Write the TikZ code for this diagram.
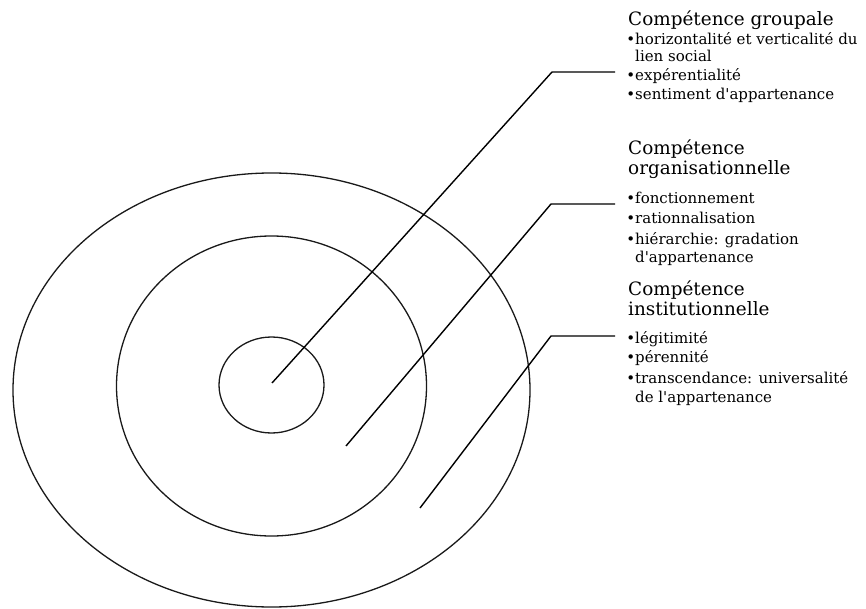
\documentclass[tikz,border=0pt]{standalone}
\usepackage{fontspec}
\setmainfont{DejaVu Serif}
\newcommand{\bul}{\makebox[7pt][l]{\hspace*{-1.8pt}•}}
\newcommand{\nobul}{\hspace*{7pt}}
\begin{document}
\begin{tikzpicture}[x=1pt,y=-1pt,
  ring/.style={draw=black!90, line width=1.3pt},
  leader/.style={draw=black, line width=1.4pt},
  head/.style={anchor=base west, inner sep=0pt, font=\fontsize{18.4}{20}\selectfont},
  item/.style={anchor=base west, inner sep=0pt, font=\fontsize{15}{17}\selectfont}]
\useasboundingbox (0,0) rectangle (866,609);
% rings
\draw[ring] (271.5,390) ellipse [x radius=258.5, y radius=217];
\draw[ring] (271.5,386) ellipse [x radius=155, y radius=150];
\draw[ring] (271.5,385) ellipse [x radius=52.5, y radius=48];
% leader points
\coordinate (s1) at (272,383);
\coordinate (b1) at (552,72);
\coordinate (e1) at (615,72);
\coordinate (s2) at (346,446);
\coordinate (b2) at (551,204);
\coordinate (e2) at (615,204);
\coordinate (s3) at (420,508);
\coordinate (b3) at (551,336);
\coordinate (e3) at (615,336);
\draw[leader] (s1) -- (b1) -- (e1);
\draw[leader] (s2) -- (b2) -- (e2);
\draw[leader] (s3) -- (b3) -- (e3);
% group 1
\node[head] (h1) at (628,26) {Compétence groupale};
\node[item] (g1a) at (628,45) {\bul horizontalité et verticalité du};
\node[item] (g1b) at (628,62) {\nobul lien social};
\node[item] (g1c) at (628,81) {\bul expérentialité};
\node[item] (g1d) at (628,100) {\bul sentiment d\textquotesingle appartenance};
% group 2
\node[head] (h2a) at (628,155) {Compétence};
\node[head] (h2b) at (628,175) {organisationnelle};
\node[item] (g2a) at (628,204) {\bul fonctionnement};
\node[item] (g2b) at (628,224) {\bul rationnalisation};
\node[item] (g2c) at (628,245) {\bul hiérarchie: gradation};
\node[item] (g2d) at (628,263) {\nobul d\textquotesingle appartenance};
% group 3
\node[head] (h3a) at (628,295) {Compétence};
\node[head] (h3b) at (628,315) {institutionnelle};
\node[item] (g3a) at (628,343) {\bul légitimité};
\node[item] (g3b) at (628,362) {\bul pérennité};
\node[item] (g3c) at (628,383) {\bul transcendance: universalité};
\node[item] (g3d) at (628,402) {\nobul de l\textquotesingle appartenance};
\end{tikzpicture}
\end{document}
